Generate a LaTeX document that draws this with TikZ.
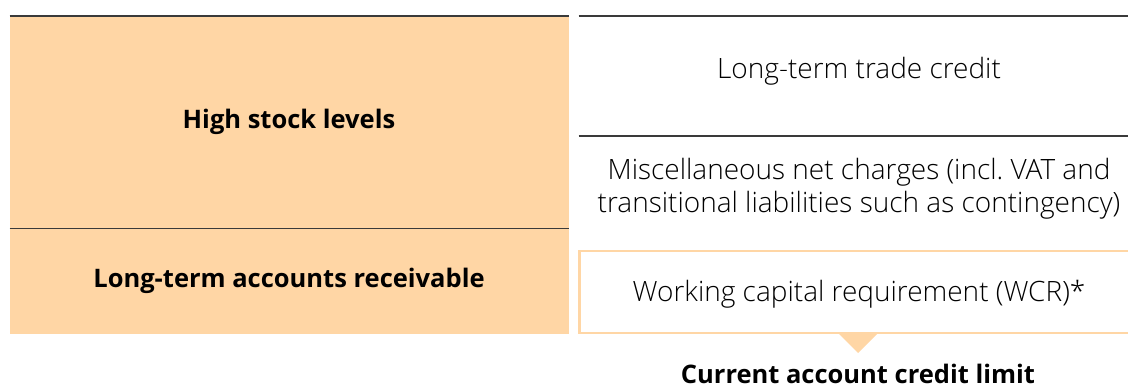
\documentclass[tikz,border=0pt]{standalone}
\usepackage{fontspec}
\setmainfont{Open Sans}[UprightFont=* Light, BoldFont=* Bold]
\usepackage{xcolor}
\usepackage{tikz}

\definecolor{stockorange}{HTML}{FFD6A5}
\definecolor{rulegray}{HTML}{3A3A3A}

\tikzset{
  boldlabel/.style={font=\fontsize{25.5}{30}\selectfont\bfseries, text=black},
  lightlabel/.style={font=\fontsize{28}{33}\selectfont, text=black, align=center},
  rowline/.style={draw=rulegray, line width=1.2pt}
}

\begin{document}
\begin{tikzpicture}[x=1pt,y=-1pt]
            \useasboundingbox (0,0) rectangle (1128,386);
            % left block
            \fill [stockorange] (9.6,16) rectangle (569,334);
            \draw [rowline] (9.6,16) -- (569,16);
            \draw [rowline] (9.6,228.5) -- (569,228.5);
            \node [boldlabel, anchor=base] (stock) at (289,128) {High stock levels};
            \node [boldlabel, anchor=base] (receivable) at (289,287) {Long-term accounts receivable};
            % right column
            \draw [rowline] (578.5,16) -- (1128,16);
            \draw [rowline] (578.5,136) -- (1128,136);
            \node [lightlabel, anchor=base] (trade) at (859,78.5) {Long-term trade credit};
            \node [lightlabel, anchor=base] (charges) at (859,212) {Miscellaneous net charges (incl.\ VAT and\\transitional liabilities such as contingency)};
            \begin{scope}
              \clip (0,0) rectangle (1128,386);
              \draw [stockorange, line width=2.2pt] (1135,251) -- (579.5,251) -- (579.5,333) -- (1135,333);
            \end{scope}
            \node [lightlabel, anchor=base] (wcr) at (859,301) {Working capital requirement (WCR)*};
            % pointer to the limit
            \coordinate (tipL) at (839,334);
            \coordinate (tipR) at (877,334);
            \coordinate (tip) at (858,353);
            \fill [stockorange] (tipL) -- (tipR) -- (tip) -- cycle;
            \node [boldlabel, anchor=base, inner sep=0pt] (limit) at (858,383) {Current account credit limit};
        \end{tikzpicture}
\end{document}
